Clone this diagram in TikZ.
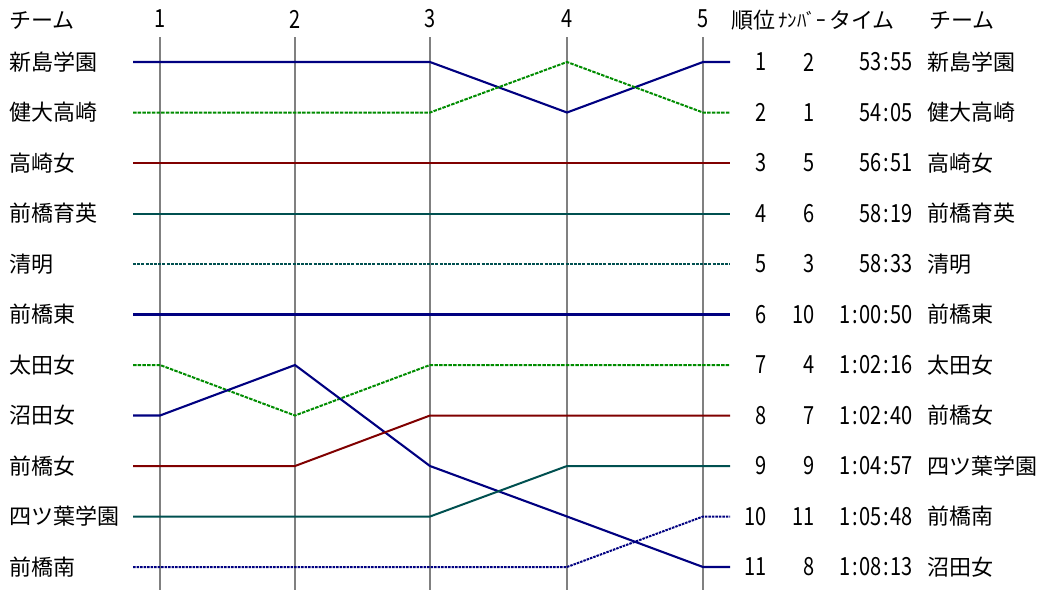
\documentclass[tikz,border=0pt]{standalone}
\usepackage{fontspec}
\setmainfont{Noto Sans CJK JP}
\newfontfamily\numfont[FakeStretch=0.8]{Noto Sans CJK JP}
\newcommand{\tcolon}{\makebox[9pt]{:}}
\definecolor{navyc}{RGB}{0,0,128}
\definecolor{greenc}{RGB}{0,140,0}
\definecolor{redc}{RGB}{128,0,0}
\definecolor{tealc}{RGB}{0,80,80}
\begin{document}
\begin{tikzpicture}[x=1pt,y=-1pt,
  lbl/.style={inner sep=0pt,font=\fontsize{22}{22}\selectfont},
  num/.style={inner sep=0pt,font=\numfont\fontsize{25}{25}\selectfont},
  grid/.style={draw=gray,line width=1.2pt},
  tnavy/.style={draw=navyc,line width=2.1pt},
  tgreen/.style={draw=greenc,line width=2pt,dash pattern=on 3.5pt off 1.2pt},
  tred/.style={draw=redc,line width=2pt},
  tteal/.style={draw=tealc,line width=2pt},
  tteald/.style={draw=tealc,line width=2pt,dash pattern=on 3pt off 1.2pt},
  tnavyd/.style={draw=navyc,line width=2pt,dash pattern=on 2.5pt off 1pt}]
\useasboundingbox (0,0) rectangle (1043,590);
% header
\node[lbl,anchor=west] (hteam) at (9,20) {チーム};
\foreach \i/\x in {1/160,2/295,3/430,4/567,5/703}{
  \node[num] (h\i) at (\x,19) {\i};
  \coordinate (vt\i) at (\x,37);
  \coordinate (vb\i) at (\x,590);
  \draw[grid] (vt\i) -- (vb\i);
}
\node[lbl,anchor=west] (hrank) at (731,20) {順位};
\node[lbl,anchor=west,font=\fontsize{19}{19}\selectfont] (hnum) at (778,20) {ﾅﾝﾊﾞｰ};
\node[lbl,anchor=west] (htime) at (829,20) {タイム};
\node[lbl,anchor=west] (hteam2) at (929,20) {チーム};
% left labels
\foreach \r/\t in {1/新島学園,2/健大高崎,3/高崎女,4/前橋育英,5/清明,6/前橋東,7/太田女,8/沼田女,9/前橋女,10/四ツ葉学園,11/前橋南}{
  \node[lbl,anchor=west] (L\r) at (9,{62+(\r-1)*50.5}) {\t};
}
% team lines
\foreach \n/\a/\b/\c/\d/\e/\s in {1/1/1/1/2/1/tnavy,2/2/2/2/1/2/tgreen,3/3/3/3/3/3/tred,4/4/4/4/4/4/tteal,5/5/5/5/5/5/tteald,6/6/6/6/6/6/tnavy,7/7/8/7/7/7/tgreen,8/8/7/9/10/11/tnavy,9/9/9/8/8/8/tred,10/10/10/10/9/9/tteal,11/11/11/11/11/10/tnavyd}{
  \coordinate (T\n-0) at (133,{62+(\a-1)*50.5});
  \coordinate (T\n-1) at (160,{62+(\a-1)*50.5});
  \coordinate (T\n-2) at (295,{62+(\b-1)*50.5});
  \coordinate (T\n-3) at (430,{62+(\c-1)*50.5});
  \coordinate (T\n-4) at (567,{62+(\d-1)*50.5});
  \coordinate (T\n-5) at (703,{62+(\e-1)*50.5});
  \coordinate (T\n-6) at (730,{62+(\e-1)*50.5});
  \draw[\s] (T\n-0) -- (T\n-1) -- (T\n-2) -- (T\n-3) -- (T\n-4) -- (T\n-5) -- (T\n-6);
}
% results table
\foreach \r/\b/\tm/\t in {1/2/53\tcolon55/新島学園,2/1/54\tcolon05/健大高崎,3/5/56\tcolon51/高崎女,4/6/58\tcolon19/前橋育英,5/3/58\tcolon33/清明,6/10/1\tcolon00\tcolon50/前橋東,7/4/1\tcolon02\tcolon16/太田女,8/7/1\tcolon02\tcolon40/前橋女,9/9/1\tcolon04\tcolon57/四ツ葉学園,10/11/1\tcolon05\tcolon48/前橋南,11/8/1\tcolon08\tcolon13/沼田女}{
  \node[num,anchor=east] (R\r) at (767,{62+(\r-1)*50.5}) {\r};
  \node[num,anchor=east] (B\r) at (815,{62+(\r-1)*50.5}) {\b};
  \node[num,anchor=east] (M\r) at (913,{62+(\r-1)*50.5}) {\tm};
  \node[lbl,anchor=west] (N\r) at (927,{62+(\r-1)*50.5}) {\t};
}
\end{tikzpicture}
\end{document}
